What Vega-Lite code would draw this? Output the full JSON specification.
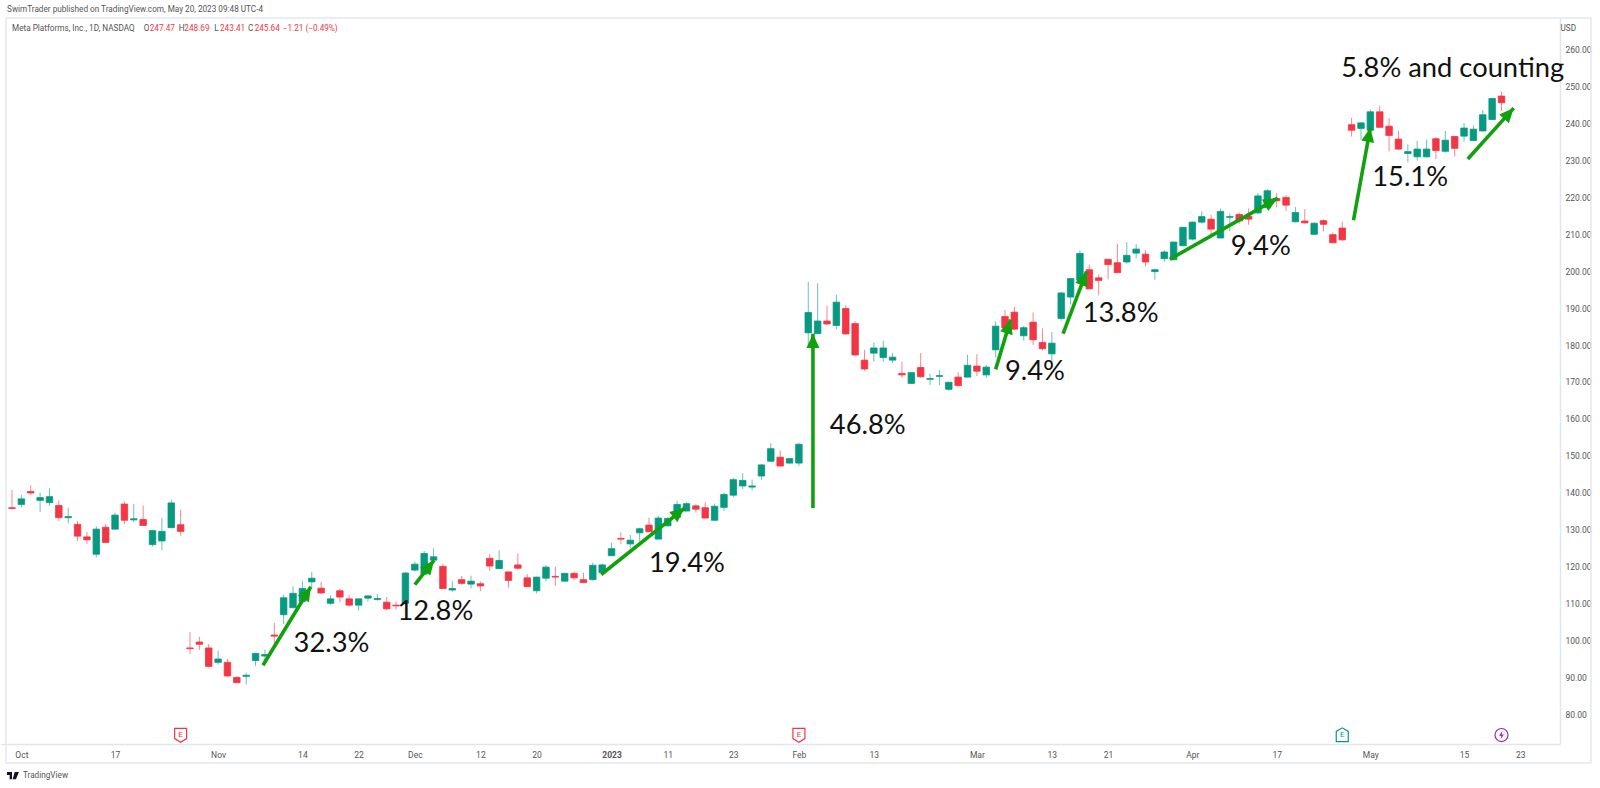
{"$schema":"https://vega.github.io/schema/vega-lite/v6.json","width":1559,"height":726,"autosize":{"type":"none"},"padding":{"left":1,"top":18,"right":40,"bottom":44},"background":"white","config":{"view":{"stroke":null},"font":"Roboto"},
"resolve":{"axis":{"x":"independent","y":"independent"}},
"datasets":{"candles":[
{"i":0,"date":"2022-09-30","open":135.9,"high":140.7,"low":135.5,"close":135.7},
{"i":1,"date":"2022-10-03","open":136.8,"high":139.4,"low":136.0,"close":138.3},
{"i":2,"date":"2022-10-04","open":140.3,"high":142.0,"low":139.3,"close":139.9},
{"i":3,"date":"2022-10-05","open":137.9,"high":140.0,"low":134.7,"close":138.65},
{"i":4,"date":"2022-10-06","open":137.3,"high":141.2,"low":136.4,"close":138.9},
{"i":5,"date":"2022-10-07","open":136.5,"high":137.9,"low":132.3,"close":133.2},
{"i":6,"date":"2022-10-10","open":133.2,"high":135.9,"low":131.7,"close":133.5},
{"i":7,"date":"2022-10-11","open":131.4,"high":132.3,"low":126.9,"close":128.2},
{"i":8,"date":"2022-10-12","open":128.0,"high":129.3,"low":126.1,"close":127.2},
{"i":9,"date":"2022-10-13","open":123.3,"high":130.9,"low":122.4,"close":130.1},
{"i":10,"date":"2022-10-14","open":130.6,"high":131.5,"low":126.5,"close":126.5},
{"i":11,"date":"2022-10-17","open":130.1,"high":134.6,"low":130.0,"close":133.9},
{"i":12,"date":"2022-10-18","open":136.9,"high":137.6,"low":131.4,"close":132.5},
{"i":13,"date":"2022-10-19","open":132.6,"high":136.9,"low":132.0,"close":132.9},
{"i":14,"date":"2022-10-20","open":132.7,"high":136.5,"low":131.1,"close":131.1},
{"i":15,"date":"2022-10-21","open":125.9,"high":129.9,"low":125.4,"close":129.7},
{"i":16,"date":"2022-10-24","open":126.9,"high":133.2,"low":124.4,"close":129.5},
{"i":17,"date":"2022-10-25","open":130.5,"high":138.1,"low":130.4,"close":137.2},
{"i":18,"date":"2022-10-26","open":131.3,"high":135.4,"low":128.3,"close":129.5},
{"i":19,"date":"2022-10-27","open":97.9,"high":102.2,"low":96.3,"close":97.7},
{"i":20,"date":"2022-10-28","open":99.5,"high":100.9,"low":97.4,"close":98.9},
{"i":21,"date":"2022-10-31","open":97.9,"high":99.0,"low":92.6,"close":92.9},
{"i":22,"date":"2022-11-01","open":94.0,"high":97.2,"low":93.4,"close":94.9},
{"i":23,"date":"2022-11-02","open":94.0,"high":94.9,"low":90.1,"close":90.3},
{"i":24,"date":"2022-11-03","open":89.9,"high":90.2,"low":88.4,"close":88.5},
{"i":25,"date":"2022-11-04","open":90.2,"high":91.2,"low":88.0,"close":90.5},
{"i":26,"date":"2022-11-07","open":94.5,"high":96.6,"low":93.0,"close":96.4},
{"i":27,"date":"2022-11-08","open":95.7,"high":97.5,"low":93.9,"close":96.1},
{"i":28,"date":"2022-11-09","open":101.4,"high":104.7,"low":98.4,"close":101.1},
{"i":29,"date":"2022-11-10","open":106.9,"high":112.4,"low":104.4,"close":111.5},
{"i":30,"date":"2022-11-11","open":108.8,"high":114.6,"low":108.8,"close":112.7},
{"i":31,"date":"2022-11-14","open":110.5,"high":116.1,"low":110.1,"close":114.0},
{"i":32,"date":"2022-11-15","open":115.8,"high":118.5,"low":114.4,"close":116.8},
{"i":33,"date":"2022-11-16","open":114.1,"high":115.8,"low":112.5,"close":112.8},
{"i":34,"date":"2022-11-17","open":110.0,"high":112.2,"low":109.6,"close":111.2},
{"i":35,"date":"2022-11-18","open":113.4,"high":114.0,"low":110.3,"close":111.7},
{"i":36,"date":"2022-11-21","open":111.2,"high":112.2,"low":109.2,"close":109.5},
{"i":37,"date":"2022-11-22","open":109.5,"high":111.2,"low":108.1,"close":111.2},
{"i":38,"date":"2022-11-23","open":111.4,"high":112.3,"low":110.5,"close":112.0},
{"i":39,"date":"2022-11-25","open":111.0,"high":112.5,"low":110.8,"close":111.3},
{"i":40,"date":"2022-11-28","open":110.3,"high":111.7,"low":108.2,"close":108.5},
{"i":41,"date":"2022-11-29","open":109.5,"high":110.5,"low":108.3,"close":109.3},
{"i":42,"date":"2022-11-30","open":110.0,"high":118.5,"low":109.7,"close":118.2},
{"i":43,"date":"2022-12-01","open":119.0,"high":121.3,"low":118.6,"close":120.6},
{"i":44,"date":"2022-12-02","open":117.9,"high":124.2,"low":117.9,"close":123.5},
{"i":45,"date":"2022-12-05","open":121.7,"high":124.9,"low":120.7,"close":122.6},
{"i":46,"date":"2022-12-06","open":120.0,"high":120.7,"low":114.0,"close":114.0},
{"i":47,"date":"2022-12-07","open":113.6,"high":116.0,"low":113.1,"close":114.0},
{"i":48,"date":"2022-12-08","open":116.4,"high":117.4,"low":115.0,"close":115.4},
{"i":49,"date":"2022-12-09","open":115.2,"high":117.5,"low":114.0,"close":116.0},
{"i":50,"date":"2022-12-12","open":115.3,"high":115.9,"low":113.3,"close":114.7},
{"i":51,"date":"2022-12-13","open":122.2,"high":123.4,"low":118.8,"close":120.1},
{"i":52,"date":"2022-12-14","open":119.4,"high":124.4,"low":119.3,"close":121.6},
{"i":53,"date":"2022-12-15","open":118.5,"high":118.6,"low":114.2,"close":116.2},
{"i":54,"date":"2022-12-16","open":120.4,"high":123.5,"low":119.0,"close":119.5},
{"i":55,"date":"2022-12-19","open":116.9,"high":117.9,"low":114.5,"close":114.5},
{"i":56,"date":"2022-12-20","open":113.4,"high":117.2,"low":112.7,"close":117.1},
{"i":57,"date":"2022-12-21","open":116.8,"high":120.4,"low":115.9,"close":119.8},
{"i":58,"date":"2022-12-22","open":117.3,"high":119.9,"low":114.7,"close":117.1},
{"i":59,"date":"2022-12-23","open":116.0,"high":118.3,"low":115.9,"close":118.1},
{"i":60,"date":"2022-12-27","open":118.1,"high":118.6,"low":116.3,"close":116.9},
{"i":61,"date":"2022-12-28","open":116.4,"high":118.3,"low":115.6,"close":115.6},
{"i":62,"date":"2022-12-29","open":116.4,"high":121.0,"low":116.2,"close":120.3},
{"i":63,"date":"2022-12-30","open":118.3,"high":120.8,"low":118.1,"close":120.4},
{"i":64,"date":"2023-01-03","open":122.9,"high":126.4,"low":122.9,"close":124.8},
{"i":65,"date":"2023-01-04","open":127.6,"high":129.2,"low":126.0,"close":127.4},
{"i":66,"date":"2023-01-05","open":126.1,"high":128.5,"low":124.9,"close":127.1},
{"i":67,"date":"2023-01-06","open":129.1,"high":130.5,"low":126.7,"close":130.2},
{"i":68,"date":"2023-01-09","open":131.2,"high":133.2,"low":129.4,"close":129.4},
{"i":69,"date":"2023-01-10","open":127.4,"high":133.7,"low":127.4,"close":133.1},
{"i":70,"date":"2023-01-11","open":131.0,"high":133.4,"low":130.8,"close":133.0},
{"i":71,"date":"2023-01-12","open":133.3,"high":137.8,"low":132.0,"close":136.8},
{"i":72,"date":"2023-01-13","open":135.0,"high":137.4,"low":135.0,"close":137.0},
{"i":73,"date":"2023-01-17","open":136.4,"high":136.9,"low":134.6,"close":135.5},
{"i":74,"date":"2023-01-18","open":135.9,"high":137.4,"low":133.1,"close":133.1},
{"i":75,"date":"2023-01-19","open":132.5,"high":137.0,"low":132.5,"close":136.3},
{"i":76,"date":"2023-01-20","open":136.0,"high":140.0,"low":135.0,"close":139.5},
{"i":77,"date":"2023-01-23","open":139.3,"high":144.0,"low":138.8,"close":143.5},
{"i":78,"date":"2023-01-24","open":141.8,"high":145.2,"low":140.9,"close":143.3},
{"i":79,"date":"2023-01-25","open":141.5,"high":143.5,"low":140.6,"close":141.8},
{"i":80,"date":"2023-01-26","open":144.5,"high":147.7,"low":143.5,"close":147.5},
{"i":81,"date":"2023-01-27","open":148.5,"high":153.4,"low":148.4,"close":151.9},
{"i":82,"date":"2023-01-30","open":149.6,"high":151.4,"low":147.1,"close":147.2},
{"i":83,"date":"2023-01-31","open":148.0,"high":149.3,"low":147.9,"close":149.2},
{"i":84,"date":"2023-02-01","open":148.0,"high":153.5,"low":147.2,"close":153.1},
{"i":85,"date":"2023-02-02","open":183.3,"high":197.1,"low":179.9,"close":188.8},
{"i":86,"date":"2023-02-03","open":183.1,"high":196.7,"low":182.9,"close":186.5},
{"i":87,"date":"2023-02-06","open":186.5,"high":190.6,"low":185.4,"close":185.7},
{"i":88,"date":"2023-02-07","open":185.3,"high":193.6,"low":184.3,"close":191.6},
{"i":89,"date":"2023-02-08","open":189.9,"high":190.8,"low":182.8,"close":183.0},
{"i":90,"date":"2023-02-09","open":185.8,"high":186.4,"low":177.0,"close":177.3},
{"i":91,"date":"2023-02-10","open":175.9,"high":178.7,"low":173.0,"close":173.5},
{"i":92,"date":"2023-02-13","open":177.8,"high":180.7,"low":175.5,"close":179.2},
{"i":93,"date":"2023-02-14","open":176.6,"high":181.2,"low":175.5,"close":179.2},
{"i":94,"date":"2023-02-15","open":175.9,"high":177.8,"low":175.1,"close":176.7},
{"i":95,"date":"2023-02-16","open":172.3,"high":175.5,"low":171.1,"close":171.9},
{"i":96,"date":"2023-02-17","open":169.6,"high":172.7,"low":169.4,"close":172.5},
{"i":97,"date":"2023-02-21","open":173.9,"high":177.8,"low":171.2,"close":171.4},
{"i":98,"date":"2023-02-22","open":170.7,"high":172.2,"low":169.2,"close":170.9},
{"i":99,"date":"2023-02-23","open":171.5,"high":173.2,"low":169.1,"close":171.7},
{"i":100,"date":"2023-02-24","open":168.0,"high":170.0,"low":167.6,"close":169.9},
{"i":101,"date":"2023-02-27","open":171.3,"high":172.6,"low":168.7,"close":169.0},
{"i":102,"date":"2023-02-28","open":171.3,"high":177.3,"low":171.3,"close":174.5},
{"i":103,"date":"2023-03-01","open":174.3,"high":177.5,"low":171.6,"close":172.9},
{"i":104,"date":"2023-03-02","open":171.9,"high":174.6,"low":171.1,"close":174.0},
{"i":105,"date":"2023-03-03","open":178.7,"high":186.4,"low":176.7,"close":185.1},
{"i":106,"date":"2023-03-06","open":187.7,"high":189.5,"low":183.5,"close":184.6},
{"i":107,"date":"2023-03-07","open":188.9,"high":190.3,"low":184.0,"close":184.3},
{"i":108,"date":"2023-03-08","open":182.5,"high":185.2,"low":181.2,"close":184.7},
{"i":109,"date":"2023-03-09","open":186.2,"high":188.8,"low":180.0,"close":181.4},
{"i":110,"date":"2023-03-10","open":180.7,"high":184.5,"low":178.5,"close":179.0},
{"i":111,"date":"2023-03-13","open":177.6,"high":183.5,"low":173.9,"close":180.5},
{"i":112,"date":"2023-03-14","open":187.2,"high":194.4,"low":186.6,"close":194.1},
{"i":113,"date":"2023-03-15","open":193.0,"high":198.0,"low":191.0,"close":198.0},
{"i":114,"date":"2023-03-16","open":197.5,"high":205.6,"low":197.0,"close":204.8},
{"i":115,"date":"2023-03-17","open":200.4,"high":201.8,"low":195.2,"close":195.2},
{"i":116,"date":"2023-03-20","open":198.2,"high":199.1,"low":193.5,"close":197.5},
{"i":117,"date":"2023-03-21","open":203.2,"high":203.4,"low":197.8,"close":201.8},
{"i":118,"date":"2023-03-22","open":202.3,"high":207.4,"low":199.6,"close":199.6},
{"i":119,"date":"2023-03-23","open":202.5,"high":207.9,"low":202.0,"close":204.3},
{"i":120,"date":"2023-03-24","open":204.9,"high":207.4,"low":203.5,"close":206.0},
{"i":121,"date":"2023-03-27","open":204.6,"high":205.7,"low":201.3,"close":202.5},
{"i":122,"date":"2023-03-28","open":199.9,"high":200.7,"low":197.7,"close":200.4},
{"i":123,"date":"2023-03-29","open":203.4,"high":205.7,"low":202.5,"close":205.2},
{"i":124,"date":"2023-03-30","open":203.1,"high":208.0,"low":203.0,"close":207.9},
{"i":125,"date":"2023-03-31","open":206.9,"high":212.0,"low":206.8,"close":211.9},
{"i":126,"date":"2023-04-03","open":208.7,"high":213.5,"low":208.3,"close":213.3},
{"i":127,"date":"2023-04-04","open":213.3,"high":216.2,"low":212.9,"close":214.8},
{"i":128,"date":"2023-04-05","open":214.1,"high":215.3,"low":210.0,"close":211.4},
{"i":129,"date":"2023-04-06","open":209.0,"high":217.0,"low":208.9,"close":216.2},
{"i":130,"date":"2023-04-10","open":214.6,"high":215.7,"low":210.8,"close":214.8},
{"i":131,"date":"2023-04-11","open":215.4,"high":215.9,"low":212.8,"close":213.6},
{"i":132,"date":"2023-04-12","open":214.9,"high":217.0,"low":212.6,"close":214.1},
{"i":133,"date":"2023-04-13","open":215.8,"high":221.2,"low":215.5,"close":220.4},
{"i":134,"date":"2023-04-14","open":217.2,"high":222.3,"low":217.1,"close":221.8},
{"i":135,"date":"2023-04-17","open":219.7,"high":221.2,"low":217.3,"close":219.1},
{"i":136,"date":"2023-04-18","open":220.0,"high":220.6,"low":216.3,"close":217.9},
{"i":137,"date":"2023-04-19","open":213.4,"high":217.4,"low":213.2,"close":215.9},
{"i":138,"date":"2023-04-20","open":213.6,"high":216.8,"low":212.9,"close":213.1},
{"i":139,"date":"2023-04-21","open":210.0,"high":213.3,"low":209.8,"close":213.0},
{"i":140,"date":"2023-04-24","open":213.7,"high":214.0,"low":210.8,"close":212.7},
{"i":141,"date":"2023-04-25","open":209.9,"high":210.5,"low":207.7,"close":207.7},
{"i":142,"date":"2023-04-26","open":211.7,"high":213.4,"low":208.2,"close":208.5},
{"i":143,"date":"2023-04-27","open":239.7,"high":241.6,"low":236.5,"close":238.2},
{"i":144,"date":"2023-04-28","open":238.7,"high":240.3,"low":235.6,"close":240.2},
{"i":145,"date":"2023-05-01","open":238.2,"high":243.8,"low":238.0,"close":243.2},
{"i":146,"date":"2023-05-02","open":243.2,"high":244.8,"low":238.8,"close":239.0},
{"i":147,"date":"2023-05-03","open":239.3,"high":241.5,"low":232.5,"close":236.8},
{"i":148,"date":"2023-05-04","open":235.8,"high":238.0,"low":232.9,"close":233.1},
{"i":149,"date":"2023-05-05","open":231.9,"high":234.4,"low":229.5,"close":232.4},
{"i":150,"date":"2023-05-08","open":231.0,"high":235.3,"low":230.0,"close":233.1},
{"i":151,"date":"2023-05-09","open":231.0,"high":235.7,"low":230.8,"close":233.1},
{"i":152,"date":"2023-05-10","open":235.9,"high":236.4,"low":230.4,"close":232.7},
{"i":153,"date":"2023-05-11","open":232.5,"high":238.0,"low":232.1,"close":235.5},
{"i":154,"date":"2023-05-12","open":236.5,"high":236.6,"low":231.1,"close":233.3},
{"i":155,"date":"2023-05-15","open":236.6,"high":240.2,"low":235.1,"close":238.8},
{"i":156,"date":"2023-05-16","open":235.4,"high":239.5,"low":235.3,"close":238.5},
{"i":157,"date":"2023-05-17","open":238.0,"high":243.7,"low":237.9,"close":242.4},
{"i":158,"date":"2023-05-18","open":241.1,"high":247.0,"low":241.0,"close":246.8},
{"i":159,"date":"2023-05-19","open":247.47,"high":248.69,"low":243.41,"close":245.64}
],
"arrows":[
{"i":26.79,"p":93.2,"i2":31.9,"p2":114.5,"angle":31.4},
{"i":43.0,"p":115.04,"i2":45.06,"p2":121.68,"angle":38.4},
{"i":62.9,"p":117.8,"i2":71.8,"p2":135.8,"angle":51.6},
{"i":85.5,"p":135.8,"i2":85.5,"p2":183.06,"angle":0},
{"i":105.0,"p":173.4,"i2":106.6,"p2":186.9,"angle":16.9},
{"i":112.2,"p":183.06,"i2":114.7,"p2":199.9,"angle":20.7},
{"i":123.6,"p":203.25,"i2":135.1,"p2":219.8,"angle":60.5},
{"i":143.2,"p":213.8,"i2":145.0,"p2":238.9,"angle":10.6},
{"i":155.4,"p":230.4,"i2":160.3,"p2":244.2,"angle":42}
],
"gains":[
{"i":30.06,"p":96.8,"text":"32.3%"},
{"i":41.15,"p":105.5,"text":"12.8%"},
{"i":68.0,"p":118.5,"text":"19.4%"},
{"i":87.3,"p":155.9,"text":"46.8%"},
{"i":106.0,"p":170.5,"text":"9.4%"},
{"i":114.3,"p":186.2,"text":"13.8%"},
{"i":130.1,"p":204.4,"text":"9.4%"},
{"i":145.2,"p":223.1,"text":"15.1%"},
{"i":141.9,"p":252.6,"text":"5.8% and counting"}
],
"notes":[
{"i":-0.53,"p":270.8,"text":"SwimTrader published on TradingView.com, May 20, 2023 09:48 UTC-4","tone":"label"},
{"i":0,"p":265.6,"text":"Meta Platforms, Inc., 1D, NASDAQ","tone":"label"},
{"i":14.07,"p":265.6,"text":"O","tone":"label"},
{"i":14.7,"p":265.6,"text":"247.47","tone":"down"},
{"i":17.8,"p":265.6,"text":"H","tone":"label"},
{"i":18.4,"p":265.6,"text":"248.69","tone":"down"},
{"i":21.6,"p":265.6,"text":"L","tone":"label"},
{"i":22.2,"p":265.6,"text":"243.41","tone":"down"},
{"i":25.2,"p":265.6,"text":"C","tone":"label"},
{"i":25.9,"p":265.6,"text":"245.64","tone":"down"},
{"i":28.9,"p":265.6,"text":"−1.21 (−0.49%)","tone":"down"},
{"i":165.3,"p":265.6,"text":"USD","tone":"label"},
{"i":1.17,"p":63.3,"text":"TradingView","tone":"label"}
],
"events":[
{"i":18,"p":74.3,"kind":"miss"},
{"i":84,"p":74.3,"kind":"miss"},
{"i":142,"p":74.3,"kind":"beat"},
{"i":159,"p":74.3,"kind":"dividend"}
]},
"encoding":{
"x":{"field":"i","type":"quantitative","title":null,"scale":{"domain":[-0.64,164.71],"nice":false,"zero":false},"axis":null},
"y":{"field":"p","type":"quantitative","title":null,"scale":{"domain":[71.87,268.62],"nice":false,"zero":false},"axis":null}
},
"layer":[
{"data":{"values":[{"i":-0.64,"i2":168.55,"p":268.62,"p2":66.7}]},"mark":{"type":"rect","fillOpacity":0,"stroke":"#e6e8ef","strokeWidth":1.5,"clip":false},"encoding":{
"x":{"field":"i","type":"quantitative","title":null,"scale":{"domain":[-0.64,164.71],"nice":false,"zero":false},"axis":{"values":[1,11,22,31,37,43,50,56,64,70,77,84,92,103,111,117,126,135,145,155,161],"labelExpr":"({'1':'Oct','11':'17','22':'Nov','31':'14','37':'22','43':'Dec','50':'12','56':'20','64':'2023','70':'11','77':'23','84':'Feb','92':'13','103':'Mar','111':'13','117':'21','126':'Apr','135':'17','145':'May','155':'15','161':'23'})[datum.value]","labelOverlap":false,"labelFlush":false,"grid":false,"ticks":false,"labelPadding":6,"labelFontSize":8.5,"labelColor":"#555555","labelFont":"Roboto","labelFontWeight":{"condition":{"test":"datum.value===64","value":"bold"},"value":"normal"},"domainColor":"#e3e5ec","domainWidth":1.5}},
"x2":{"field":"i2"},
"y":{"field":"p","type":"quantitative","title":null,"scale":{"domain":[71.87,268.62],"nice":false,"zero":false},"axis":{"orient":"right","values":[80,90,100,110,120,130,140,150,160,170,180,190,200,210,220,230,240,250,260],"format":".2f","grid":false,"ticks":false,"labelPadding":5,"labelFontSize":8.5,"labelColor":"#555555","labelFont":"Roboto","domainColor":"#e3e5ec","domainWidth":1.5}},
"y2":{"field":"p2"}}},
{"data":{"name":"candles"},"mark":{"type":"rule","strokeWidth":1,"opacity":0.6},"encoding":{"y":{"field":"high","type":"quantitative","axis":null},"y2":{"field":"low"},"color":{"condition":{"test":"datum.close>=datum.open","value":"#089981"},"value":"#F23645"}}},
{"data":{"name":"candles"},"mark":{"type":"bar","size":6.5,"strokeWidth":0.8},"encoding":{"y":{"field":"open","type":"quantitative","axis":null},"y2":{"field":"close"},"fill":{"condition":{"test":"datum.close>=datum.open","value":"#089981"},"value":"#F23645"},"stroke":{"condition":{"test":"datum.close>=datum.open","value":"#089981"},"value":"#F23645"}}},
{"data":{"name":"arrows"},"mark":{"type":"rule","strokeWidth":3.6,"color":"#12A10E"},"encoding":{"x2":{"field":"i2"},"y2":{"field":"p2"}}},
{"data":{"name":"arrows"},"mark":{"type":"point","filled":true,"opacity":1,"size":170,"color":"#12A10E","shape":"M0,0L1,2.2L-1,2.2Z"},"encoding":{"x":{"field":"i2","type":"quantitative","axis":null},"y":{"field":"p2","type":"quantitative","axis":null},"angle":{"field":"angle","type":"quantitative","scale":null}}},
{"data":{"name":"gains"},"mark":{"type":"text","align":"left","baseline":"alphabetic","font":"Lato","fontSize":27.3,"color":"#111111"},"encoding":{"text":{"field":"text"}}},
{"data":{"name":"notes"},"mark":{"type":"text","align":"left","baseline":"middle","font":"Roboto","fontSize":8.2,"clip":false},"encoding":{"text":{"field":"text"},"color":{"field":"tone","type":"nominal","legend":null,"scale":{"domain":["label","down"],"range":["#555555","#F23645"]}}}},
{"data":{"name":"events"},"transform":[{"filter":"datum.kind==='miss'"}],"mark":{"type":"point","filled":true,"fill":"white","stroke":"#F23645","strokeWidth":1.2,"opacity":1,"size":144,"shape":"M-1,-1.1L1,-1.1L1,0.6L0,1.2L-1,0.6Z"}},
{"data":{"name":"events"},"transform":[{"filter":"datum.kind==='beat'"}],"mark":{"type":"point","filled":true,"fill":"white","stroke":"#089981","strokeWidth":1.2,"opacity":1,"size":144,"shape":"M-1,1.1L1,1.1L1,-0.6L0,-1.2L-1,-0.6Z"}},
{"data":{"name":"events"},"transform":[{"filter":"datum.kind==='dividend'"}],"mark":{"type":"point","filled":true,"fill":"white","stroke":"#9C27B0","strokeWidth":1.2,"opacity":1,"size":170,"shape":"circle"}},
{"data":{"name":"events"},"transform":[{"filter":"datum.kind==='dividend'"}],"mark":{"type":"point","filled":true,"color":"#9C27B0","opacity":1,"size":64,"shape":"M0.2,-1L-0.6,0.15L-0.05,0.15L-0.2,1L0.6,-0.15L0.05,-0.15Z"}},
{"data":{"name":"events"},"transform":[{"filter":"datum.kind==='miss'"}],"mark":{"type":"text","text":"E","fontSize":8,"font":"Roboto","color":"#F23645"}},
{"data":{"name":"events"},"transform":[{"filter":"datum.kind==='beat'"}],"mark":{"type":"text","text":"E","fontSize":8,"font":"Roboto","color":"#089981"}},
{"data":{"values":[{"i":0.1,"p":63.3}]},"mark":{"type":"point","filled":true,"color":"#131722","opacity":1,"size":144,"clip":false,"shape":"M-1,-0.6H-0.15V0.6H-0.55V-0.1H-1ZM0.3,-0.6H1L0.5,0.6H-0.05Z"}}
]}
